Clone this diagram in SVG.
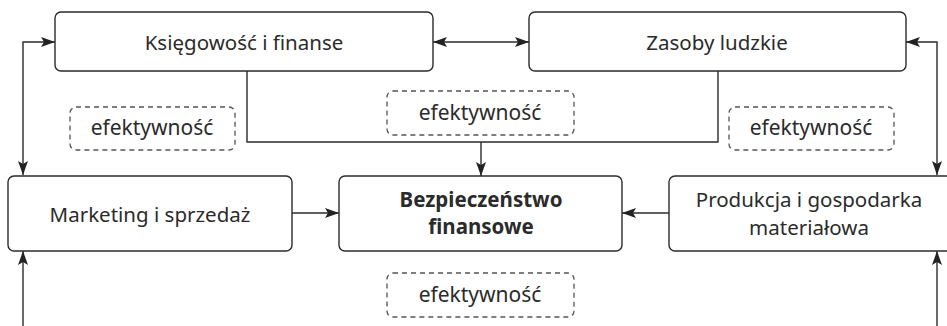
<svg xmlns="http://www.w3.org/2000/svg" width="947" height="326" viewBox="0 0 947 326">
<defs>
<style>
.box{fill:#fff;stroke:#2b2b2b;stroke-width:1.4}
.dash{fill:#fff;stroke:#555;stroke-width:1.3;stroke-dasharray:5 4}
.ln{fill:none;stroke:#2b2b2b;stroke-width:1.4}
text{font-family:"Noto Sans","Open Sans",sans-serif;font-size:20.5px;fill:#2b2b2b;text-anchor:middle}
.b{font-weight:bold}
.e{font-size:21px}
</style>
<marker id="ah" viewBox="0 0 14 10" refX="14" refY="5" markerWidth="14" markerHeight="10" markerUnits="userSpaceOnUse" orient="auto-start-reverse">
<path d="M0,0 L14,5 L0,10 L3,5 Z" fill="#222"/>
</marker>
</defs>
<rect width="947" height="326" fill="#fff"/>
<g id="connectors">
<path class="ln" d="M433,42 H529" marker-start="url(#ah)" marker-end="url(#ah)"/>
<path class="ln" d="M55,42 H23 V175" marker-start="url(#ah)" marker-end="url(#ah)"/>
<path class="ln" d="M906,42 H937 V175" marker-start="url(#ah)" marker-end="url(#ah)"/>
<path class="ln" d="M23,326 V251" marker-end="url(#ah)"/>
<path class="ln" d="M937,326 V251" marker-end="url(#ah)"/>
<path class="ln" d="M247,71 V142 H718 V71"/>
<path class="ln" d="M481,142 V176" marker-end="url(#ah)"/>
<path class="ln" d="M292,213 H339" marker-end="url(#ah)"/>
<path class="ln" d="M669,213 H622" marker-end="url(#ah)"/>
</g>
<g id="ksiegowosc">
<rect class="box" x="55" y="12" width="378" height="59" rx="6"/>
<text x="244" y="50">Księgowość i finanse</text>
</g>
<g id="zasoby">
<rect class="box" x="529" y="12" width="377" height="59" rx="6"/>
<text x="717" y="50">Zasoby ludzkie</text>
</g>
<g id="marketing">
<rect class="box" x="8" y="176" width="284" height="75" rx="6"/>
<text x="150" y="222">Marketing i sprzedaż</text>
</g>
<g id="bezpieczenstwo">
<rect class="box" x="339" y="176" width="283" height="75" rx="6"/>
<text class="b" x="481" y="207">Bezpieczeństwo</text>
<text class="b" x="481" y="234">finansowe</text>
</g>
<g id="produkcja">
<rect class="box" x="669" y="176" width="300" height="75" rx="6"/>
<text x="809" y="207">Produkcja i gospodarka</text>
<text x="809" y="235">materiałowa</text>
</g>
<g id="ef1">
<rect class="dash" x="70" y="107" width="165" height="43" rx="6"/>
<text class="e" x="152" y="135">efektywność</text>
</g>
<g id="ef2">
<rect class="dash" x="387" y="91" width="187" height="44" rx="6"/>
<text class="e" x="480" y="120">efektywność</text>
</g>
<g id="ef3">
<rect class="dash" x="729" y="107" width="165" height="43" rx="6"/>
<text class="e" x="811" y="135">efektywność</text>
</g>
<g id="ef4">
<rect class="dash" x="387" y="273" width="187" height="44" rx="6"/>
<text class="e" x="480" y="302">efektywność</text>
</g>
</svg>
